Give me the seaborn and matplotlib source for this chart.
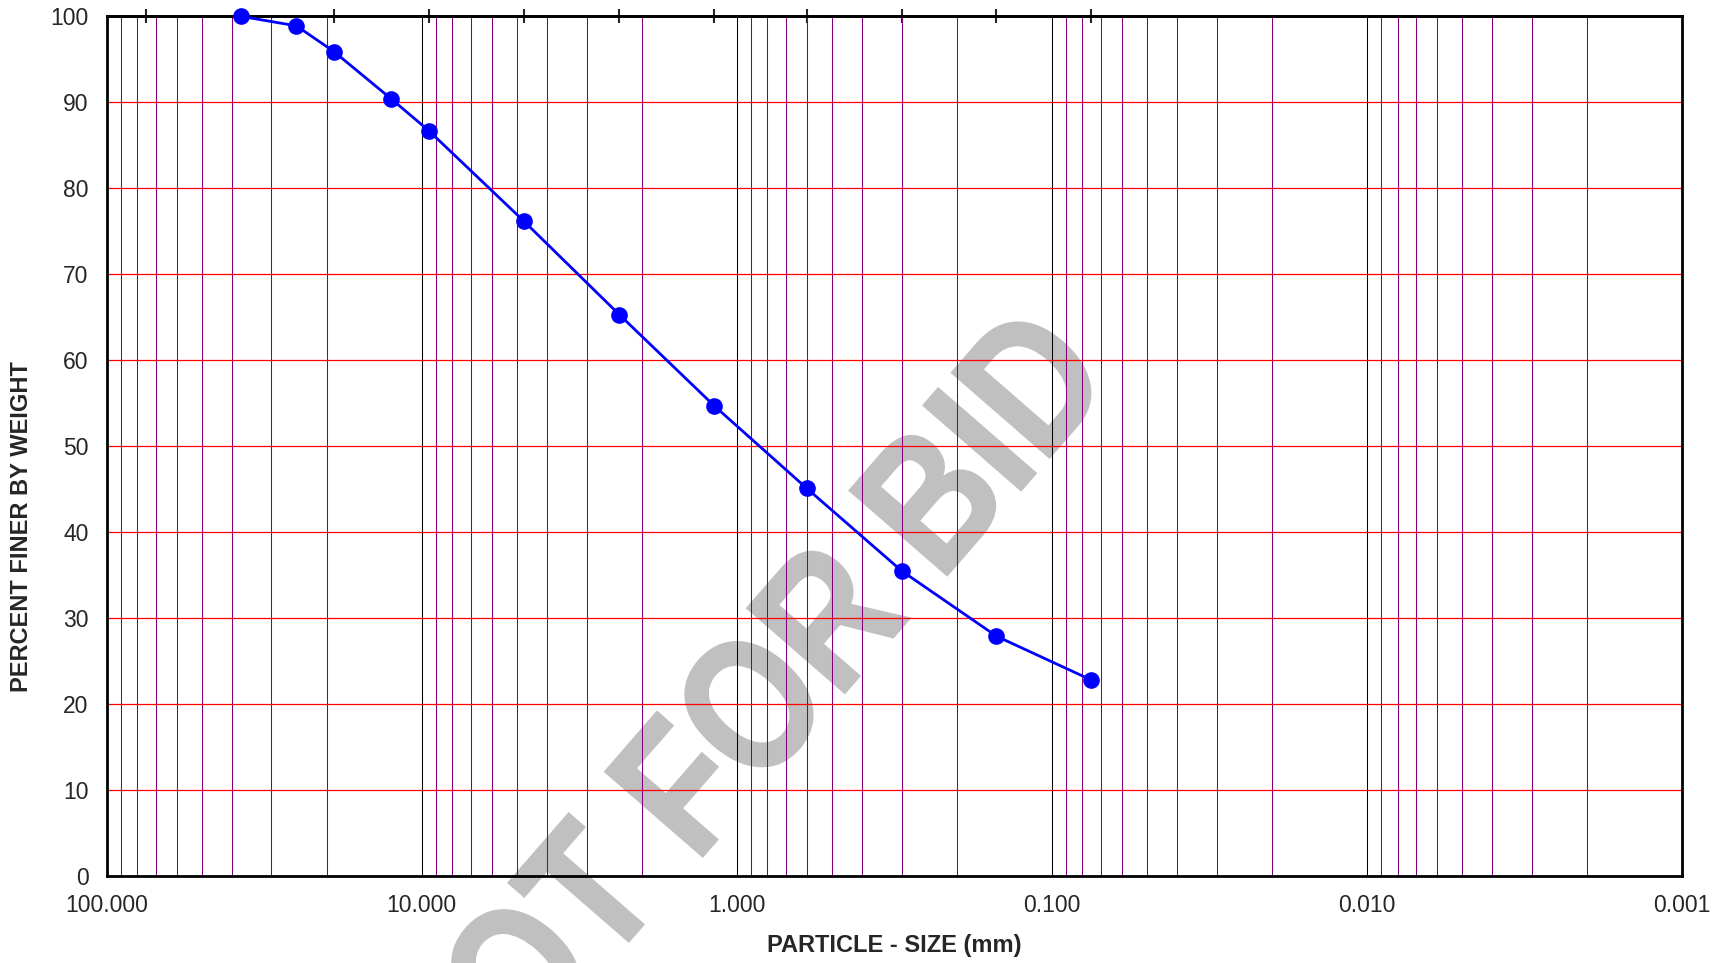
import numpy as np
import pandas as pd
import seaborn as sns
import matplotlib.pyplot as plt
from matplotlib.ticker import LogLocator, FuncFormatter, NullFormatter, NullLocator
from matplotlib.textpath import TextPath
from matplotlib.patches import PathPatch
from matplotlib.font_manager import FontProperties
from matplotlib.transforms import Affine2D

# sieve analysis data
sizes_mm = [37.5, 25.0, 19.0, 12.5, 9.5, 4.75, 2.36, 1.18, 0.6, 0.3, 0.15, 0.075]
pct_finer = [100.0, 98.9, 95.9, 90.4, 86.7, 76.2, 65.3, 54.7, 45.1, 35.5, 27.9, 22.8]

# sieve sizes marked on the top axis
sieve_ticks = [75, 37.5, 19.0, 9.5, 4.75, 2.36, 1.18, 0.6, 0.3, 0.15, 0.075]
y_ticks = list(range(0, 101, 10))

sns.set_style('white')
plt.rcParams['font.family'] = ['Liberation Sans', 'DejaVu Sans']

fig, ax = plt.subplots(figsize=(17.24, 9.63), dpi=100)
fig.subplots_adjust(left=0.0619, right=0.9757, top=0.983, bottom=0.0903)
ax.set_facecolor('none')

df = pd.DataFrame({'size': sizes_mm, 'pct': pct_finer})
sns.lineplot(data=df, x='size', y='pct', ax=ax, color='#0000ff', lw=2,
             marker='o', markersize=12, markeredgewidth=0, zorder=5, clip_on=False)

ax.set_xscale('log')
ax.set_xlim(100, 0.001)
ax.set_ylim(0, 100)
ax.set_yticks(y_ticks)

ax.xaxis.set_major_locator(LogLocator(base=10))
ax.xaxis.set_minor_locator(LogLocator(base=10, subs=np.arange(2, 10)))
ax.xaxis.set_major_formatter(FuncFormatter(lambda v, p: f'{v:.3f}'))
ax.xaxis.set_minor_formatter(NullFormatter())

ax.grid(which='major', axis='x', color='black', lw=0.75)
ax.grid(which='minor', axis='x', color='#800080', lw=0.75)
ax.grid(which='major', axis='y', color='#ff0000', lw=0.9)
ax.set_axisbelow(True)

ax.tick_params(axis='x', which='both', length=0, pad=13, labelsize=16.5)
ax.tick_params(axis='y', direction='out', length=5, width=1, pad=8, labelsize=16.5)

for s in ax.spines.values():
    s.set_linewidth(2)
    s.set_color('black')

# sieve marks across the top edge
secax = ax.secondary_xaxis('top')
secax.set_xticks(sieve_ticks)
secax.xaxis.set_minor_locator(NullLocator())
secax.tick_params(axis='x', direction='inout', length=10, width=1.5,
                  labeltop=False, labelbottom=False)
secax.spines['top'].set_linewidth(2)

ax.set_xlabel('PARTICLE - SIZE (mm)', fontsize=17, fontweight='bold', labelpad=12)
ax.set_ylabel('PERCENT FINER BY WEIGHT', fontsize=17, fontweight='bold')
ax.yaxis.set_label_coords(-0.047, 0.406)

# watermark behind the plot
tp = TextPath((0, 0), 'NOT FOR BID', size=1,
              prop=FontProperties(family='Liberation Sans', weight='bold'))
v = tp.vertices
cx, cy = (v[:, 0].min() + v[:, 0].max()) / 2, (v[:, 1].min() + v[:, 1].max()) / 2
tr = Affine2D().translate(-cx, -cy).scale(156, 188).rotate_deg(49).translate(733, 963 - 723)
fig.add_artist(PathPatch(tp, transform=tr, facecolor='#c0c0c0', edgecolor='#c0c0c0',
                         lw=1.5, zorder=-1))

fig.savefig('out.png', dpi=100)
